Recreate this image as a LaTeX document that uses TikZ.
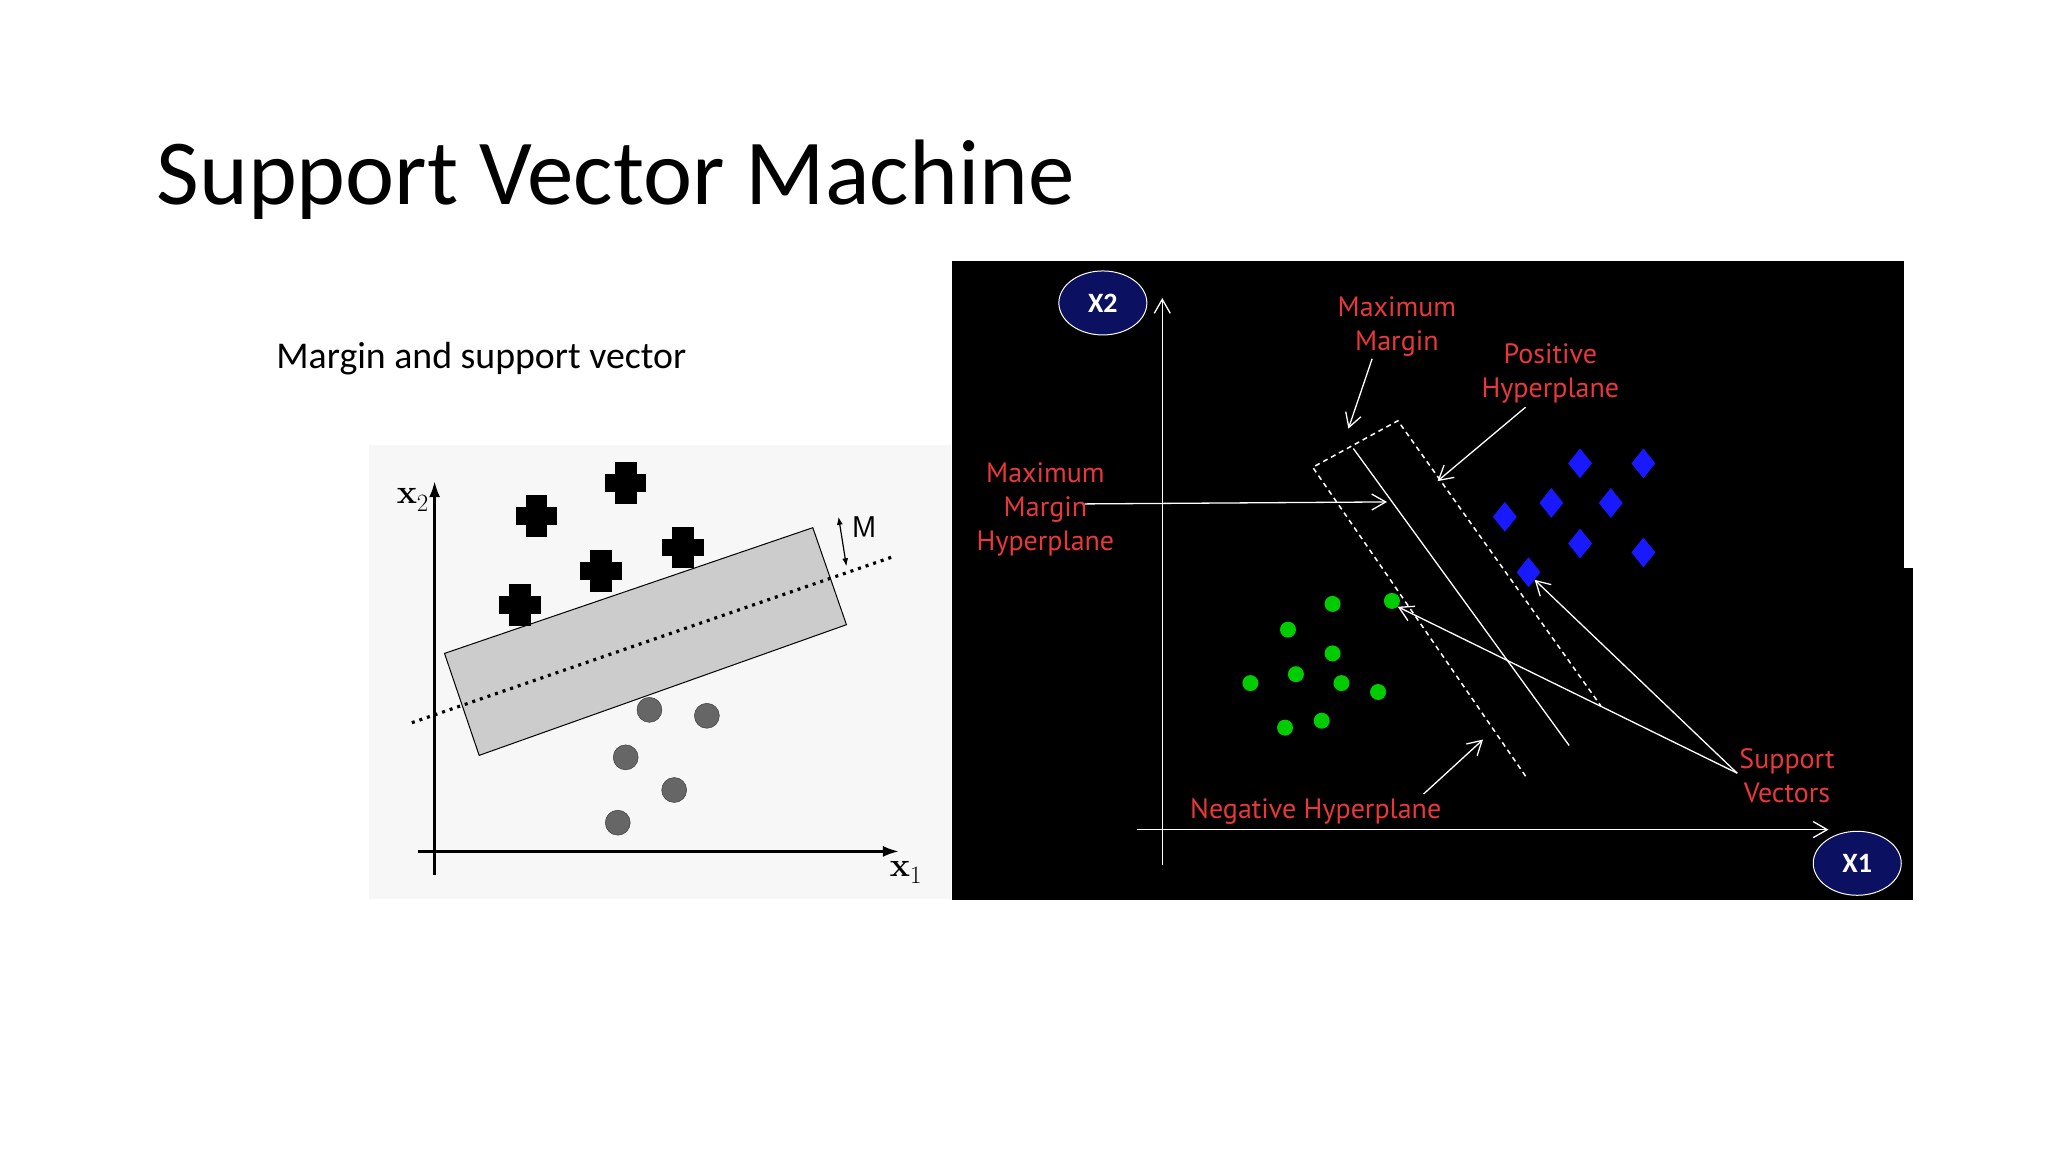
\documentclass[tikz,border=0pt]{standalone}
\usepackage{fontspec}
\setmainfont{Carlito}
\newfontfamily\lblfont{PT Sans}
\newfontfamily\lmfont{Latin Modern Roman}
\usetikzlibrary{arrows.meta,shapes.geometric}
\definecolor{lblred}{HTML}{E8383A}
\definecolor{navy}{HTML}{0B1060}
\tikzset{
  redlbl/.style={text=lblred,font=\lblfont\fontsize{28}{34}\selectfont,align=center,inner sep=0pt},
  wline/.style={draw=white,line width=1.3pt},
  warrow/.style={wline,-{Straight Barb[length=14pt,width=16pt,open]}},
  dashln/.style={draw=white,line width=1.5pt,dash pattern=on 5pt off 4pt},
  gdot/.style={circle,fill=green!80!black,draw=none,minimum size=16pt,inner sep=0pt},
  bdia/.style={diamond,fill=blue!90!white,draw=none,minimum width=24pt,minimum height=30pt,inner sep=0pt},
  gcirc/.style={circle,fill=black!60,draw=black!80,minimum size=25pt,inner sep=0pt},
  axlbl/.style={ellipse,fill=navy,draw=white,line width=1pt,text=white,font=\bfseries\fontsize{28}{30}\selectfont,minimum width=88pt,minimum height=64pt,inner sep=0pt},
  axname/.style={font=\lmfont\bfseries\fontsize{34}{34}\selectfont,inner sep=0pt}
}
\newcommand{\plusmark}[2]{\fill (#1-21,#2-9) rectangle (#1+21,#2+9); \fill (#1-11,#2-21) rectangle (#1+11,#2+21);}
\begin{document}
\begin{tikzpicture}[x=0.99pt,y=-0.99pt]
\useasboundingbox (0,0) rectangle (2068.7,1163.6);
\fill[white] (0,0) rectangle (2068.7,1163.6);
\node[anchor=base west,inner sep=0pt,font=\fontsize{93}{100}\selectfont] (title) at (158,207) {Support Vector Machine};
\node[anchor=base west,inner sep=0pt,font=\fontsize{37.8}{40}\selectfont] (sub) at (279,372) {Margin and support vector};
% left panel
\fill[black!3] (373,449) rectangle (961,908);
\fill[black!20,draw=black,line width=1pt] (449,660) -- (821,533) -- (855,631) -- (484,763) -- cycle;
\draw[line width=3.2pt,dash pattern=on 3pt off 5pt] (416,730) -- (903,562);
\draw[line width=2.5pt,-{Latex[length=16pt,width=11pt]}] (439,884) -- (439,486);
\draw[line width=2.5pt,-{Latex[length=16pt,width=11pt]}] (422,860) -- (908,860);
\node[axname] (x2l) at (417,505) {x$_2$};
\node[axname] (x1l) at (915,881) {x$_1$};
\node[font=\fontsize{30}{30}\selectfont\sffamily] (mlbl) at (873,532) {M};
\draw[line width=1.2pt,{Latex[length=8pt,width=6pt]}-{Latex[length=8pt,width=6pt]}] (847,522) -- (855,572);
\plusmark{542}{521}\plusmark{632}{488}\plusmark{690}{553}\plusmark{607}{577}\plusmark{525}{611}
\foreach \p/\q [count=\i] in {656/717,714/723,632/765,681/798,624/831}
  \node[gcirc] (c\i) at (\p,\q) {};
% right panel
\fill[black] (962,264) rectangle (1923,909);
\fill[black] (1923,574) rectangle (1932,909);
\node[axlbl] (X2) at (1114,306) {X2};
\node[axlbl] (X1) at (1876,872) {X1};
\coordinate (ybot) at (1174,874); \coordinate (ytop) at (1174,301);
\coordinate (xl) at (1148,838); \coordinate (xr) at (1847,838);
\draw[warrow] (ybot) -- (ytop);
\draw[warrow] (xl) -- (xr);
\draw[wline] (1367,453) -- (1585,753);
\draw[dashln] (1541,784) -- (1326,472) -- (1412,425) -- (1617,713);
\foreach \p/\q [count=\i] in {1596/468,1660/468,1567/508,1627/508,1520/522,1596/549,1660/558,1544/578}
  \node[bdia] (d\i) at (\p,\q) {};
\foreach \p/\q [count=\i] in {1346/610,1406/607,1301/636,1346/660,1309/681,1355/690,1263/690,1392/699,1298/735,1335/728}
  \node[gdot] (g\i) at (\p,\q) {};
\node[redlbl] (mm) at (1411,330) {Maximum\\Margin};
\node[redlbl] (ph) at (1566,377) {Positive\\Hyperplane};
\node[redlbl] (mmh) at (1056,515) {Maximum\\Margin\\Hyperplane};
\node[redlbl] (nh) at (1329,820) {Negative Hyperplane};
\node[redlbl] (sv) at (1805,784) {Support\\Vectors};
\coordinate (nhs) at (1438,802);
\draw[warrow] (mm.south) ++(-25,2) -- (1362,433);
\draw[warrow] (ph.south) ++(-25,4) -- (1452,486);
\draw[warrow] (mmh.east) ++(-30,-6) -- (1401,507);
\draw[warrow] (nhs) -- (1498,747);
\draw[warrow] (sv.west) ++(-2,-3) -- (g2.south east);
\draw[warrow] (sv.west) ++(-2,-3) -- (d8.south east);
\end{tikzpicture}
\end{document}
